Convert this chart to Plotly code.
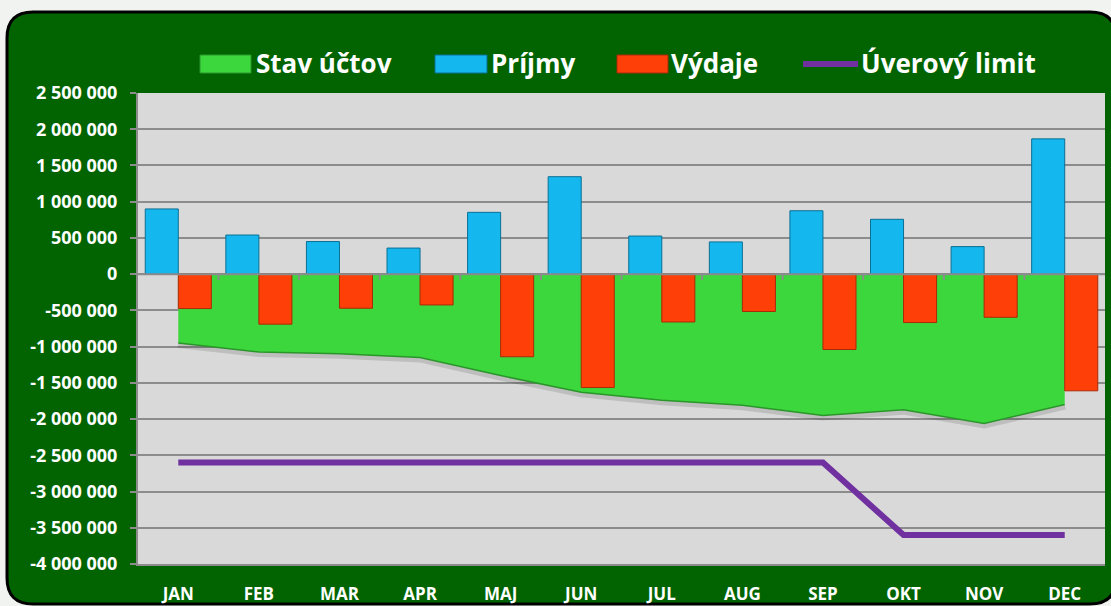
import plotly.graph_objects as go

# ---- data ----
months = ["JAN", "FEB", "MAR", "APR", "MAJ", "JUN", "JUL", "AUG", "SEP", "OKT", "NOV", "DEC"]
stav_uctov = [-950000, -1075000, -1100000, -1150000, -1400000, -1630000,
              -1740000, -1810000, -1950000, -1870000, -2060000, -1800000]
prijmy = [900000, 540000, 450000, 360000, 853000, 1345000,
          526000, 445000, 875000, 757000, 380000, 1867000]
vydaje = [-475000, -690000, -470000, -425000, -1140000, -1565000,
          -660000, -515000, -1040000, -668000, -595000, -1610000]
uverovy_limit = [-2600000, -2600000, -2600000, -2600000, -2600000, -2600000,
                 -2600000, -2600000, -2600000, -3600000, -3600000, -3600000]
series_names = ["Stav účtov", "Príjmy", "Výdaje", "Úverový limit"]
y_tick_values = [2500000, 2000000, 1500000, 1000000, 500000, 0, -500000, -1000000,
                 -1500000, -2000000, -2500000, -3000000, -3500000, -4000000]
y_tick_labels = ["2 500 000", "2 000 000", "1 500 000", "1 000 000", "500 000", "0",
                 "-500 000", "-1 000 000", "-1 500 000", "-2 000 000", "-2 500 000",
                 "-3 000 000", "-3 500 000", "-4 000 000"]

# ---- geometry (pixels) ----
FW, FH = 1111, 606
L, R, T, B = 138, 1105, 93, 564
PW, PH = R - L, B - T


def px(x):
    return (x - L) / PW


def py(y):
    return (B - y) / PH


GREEN_BG = "#016401"
GRID = "#8c8c8c"
C_AREA = "#3cd73c"
C_BLUE = "#14b8ee"
C_RED = "#ff3f08"
C_PURPLE = "#7030a0"
FONT = "Open Sans"

fig = go.Figure()

# soft shadow under the balance area
fig.add_trace(go.Scatter(x=months, y=stav_uctov, mode="lines",
                         line=dict(color="rgba(0,0,0,0.12)", width=10),
                         showlegend=False, hoverinfo="skip", xaxis="x", yaxis="y"))
# balance area
fig.add_trace(go.Scatter(x=months, y=stav_uctov, name=series_names[0], mode="lines",
                         fill="tozeroy", fillcolor=C_AREA,
                         line=dict(color="#2a962a", width=1.5),
                         showlegend=False, xaxis="x", yaxis="y"))
# credit limit
fig.add_trace(go.Scatter(x=months, y=uverovy_limit, name=series_names[3], mode="lines",
                         line=dict(color=C_PURPLE, width=6),
                         showlegend=False, xaxis="x", yaxis="y"))
# bars on overlaying axes so they are drawn above the area
fig.add_trace(go.Bar(x=months, y=prijmy, name=series_names[1],
                     marker=dict(color=C_BLUE, line=dict(color="#0b6f95", width=1)),
                     showlegend=False, xaxis="x2", yaxis="y2"))
fig.add_trace(go.Bar(x=months, y=vydaje, name=series_names[2],
                     marker=dict(color=C_RED, line=dict(color="#a82a06", width=1)),
                     showlegend=False, xaxis="x2", yaxis="y2"))

# ---- shapes ----
x0, y0, x1, y1, r = 7, 12, 1116, 604, 26
pts = [("M", [(x0 + r, y0)]), ("L", [(x1 - r, y0)]), ("Q", [(x1, y0), (x1, y0 + r)]),
       ("L", [(x1, y1 - r)]), ("Q", [(x1, y1), (x1 - r, y1)]), ("L", [(x0 + r, y1)]),
       ("Q", [(x0, y1), (x0, y1 - r)]), ("L", [(x0, y0 + r)]), ("Q", [(x0, y0), (x0 + r, y0)])]
path = ""
for cmd, ps in pts:
    path += cmd + " ".join(f"{px(a):.5f},{py(b):.5f}" for a, b in ps) + " "
path += "Z"

shapes = [
    dict(type="path", path=path, xref="paper", yref="paper", layer="below",
         fillcolor=GREEN_BG, line=dict(color="#000000", width=3)),
    dict(type="rect", xref="paper", yref="paper", x0=0, x1=1, y0=0, y1=1, layer="below",
         fillcolor="#d9d9d9", line=dict(width=0)),
    dict(type="line", xref="paper", yref="y", x0=0, x1=1, y0=0, y1=0, layer="above",
         line=dict(color=GRID, width=2)),
]
for i in range(len(months) - 1):
    shapes.append(dict(type="line", xref="x", yref="y", ysizemode="pixel", yanchor=0,
                       x0=i + 0.5, x1=i + 0.5, y0=0, y1=-6, layer="above",
                       line=dict(color=GRID, width=2)))

# ---- manual legend ----
legend_items = [
    (series_names[0], "rect", C_AREA, "#2a962a", 200, 251, 254),
    (series_names[1], "rect", C_BLUE, "#0b6f95", 435, 487, 489),
    (series_names[2], "rect", C_RED, "#a82a06", 617, 668, 669),
    (series_names[3], "line", C_PURPLE, C_PURPLE, 803, 858, 859),
]
annotations = []
for name, kind, col, edge, sx0, sx1, tx in legend_items:
    if kind == "rect":
        shapes.append(dict(type="rect", xref="paper", yref="paper", x0=px(sx0), x1=px(sx1),
                           y0=py(73), y1=py(55), fillcolor=col, line=dict(color=edge, width=1),
                           layer="above"))
    else:
        shapes.append(dict(type="line", xref="paper", yref="paper", x0=px(sx0), x1=px(sx1),
                           y0=py(64), y1=py(64), line=dict(color=col, width=6), layer="above"))
    annotations.append(dict(text=name, xref="paper", yref="paper", x=px(tx), y=py(63),
                            xanchor="left", yanchor="middle", showarrow=False,
                            font=dict(family=FONT, size=26, color="white", weight=700)))

fig.update_layout(
    width=FW, height=FH,
    margin=dict(l=L, r=FW - R, t=T, b=FH - B, autoexpand=False),
    paper_bgcolor="#f1f3f1",
    plot_bgcolor="rgba(0,0,0,0)",
    barmode="group", bargap=0.18, bargroupgap=0,
    showlegend=False,
    shapes=shapes,
    annotations=annotations,
    xaxis=dict(type="category", categoryorder="array", categoryarray=months,
               range=[-0.5, len(months) - 0.5], showgrid=False, zeroline=False,
               showline=True, linecolor=GRID, linewidth=2, ticks="",
               tickfont=dict(family=FONT, size=17, color="white", weight=700),
               ticklabelstandoff=14, automargin=False, fixedrange=True),
    yaxis=dict(range=[-4000000, 2500000], tickmode="array", tickvals=y_tick_values,
               ticktext=y_tick_labels, showgrid=True, gridcolor=GRID, gridwidth=2,
               zeroline=False, showline=True, linecolor=GRID, linewidth=2,
               ticks="outside", ticklen=6, tickwidth=2, tickcolor=GRID,
               tickfont=dict(family=FONT, size=18, color="white", weight=700),
               ticklabelstandoff=9, automargin=False, fixedrange=True),
    xaxis2=dict(type="category", categoryorder="array", categoryarray=months,
                range=[-0.5, len(months) - 0.5], overlaying="x", anchor="y2",
                visible=False, automargin=False, fixedrange=True),
    yaxis2=dict(range=[-4000000, 2500000], overlaying="y", anchor="x2",
                visible=False, automargin=False, fixedrange=True),
)

fig.write_html(
    "out.html", config={"displayModeBar": False},
    post_script=("document.documentElement.style.margin='0';"
                 "document.documentElement.style.overflow='hidden';"
                 "document.body.style.margin='0';document.body.style.padding='0';"
                 "document.body.style.overflow='hidden';"))
